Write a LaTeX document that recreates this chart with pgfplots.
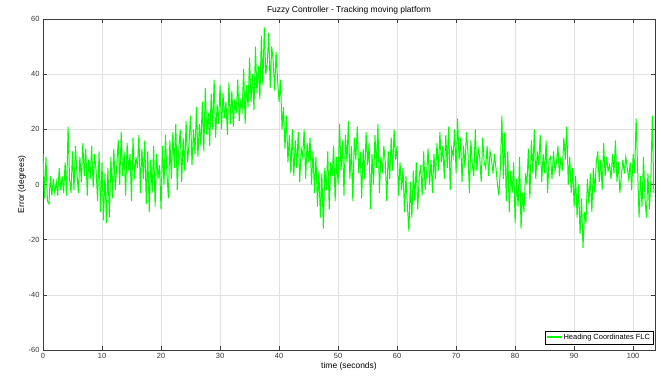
\documentclass[border=0pt]{standalone}
\usepackage{pgfplots}
\pgfplotsset{compat=1.18}
\usepackage{pgfplotstable}
\usepackage{fontspec}
\setmainfont{Liberation Sans}
\definecolor{lgreen}{RGB}{0,255,0}
\definecolor{gridgray}{RGB}{225,225,225}
\definecolor{axgray}{RGB}{60,60,60}
\pgfplotstableread{
err
11
-5
10
-6
-7
3
-4
2
-3
1
-4
6
-2
3
-3
8
-4
21
2
-3
12
-2
14
4
-3
10
1
15
3
13
-4
9
2
14
-1
11
5
-6
12
-10
8
-13
4
-14
6
-12
10
-5
13
-2
7
16
0
19
3
12
-4
15
5
11
-6
17
2
10
6
18
-3
13
2
16
-7
12
-10
9
-3
14
-8
11
2
7
-9
14
0
18
4
-5
16
2
19
6
22
-2
12
20
1
17
5
23
8
15
25
7
20
11
28
10
22
14
30
12
35
18
26
14
33
20
38
17
29
22
36
20
33
24
30
18
37
22
34
21
31
26
38
23
30
27
42
22
36
28
46
30
40
27
50
33
43
31
54
36
57
40
44
55
35
50
45
34
48
38
30
38
20
28
13
25
8
18
4
20
3
16
6
19
1
13
10
20
2
15
8
17
0
12
-3
10
-8
5
-12
4
-16
6
-2
12
-9
8
3
14
-6
10
0
22
5
16
-4
18
8
23
2
14
-6
17
9
21
4
12
-5
13
2
19
7
15
-9
11
0
18
6
22
-3
10
4
14
8
-6
12
2
17
5
20
9
14
-4
8
-2
6
-10
3
-8
-17
1
-12
5
-6
8
-9
3
7
-4
12
-2
4
13
0
9
-3
11
2
15
5
19
8
14
2
18
6
21
-2
13
10
20
4
24
9
17
1
14
6
19
12
-3
16
7
3
20
5
13
10
1
17
8
6
14
3
12
9
4
11
6
0
-4
6
25
2
19
-6
12
-10
5
-3
8
-14
2
-8
10
-16
-3
-10
4
0
13
-5
16
4
20
2
12
7
18
1
11
4
16
-3
9
10
2
12
5
8
14
3
10
5
17
9
21
0
10
-3
6
-8
3
-12
0
-18
-5
-23
-10
-14
2
-7
4
-10
6
-3
8
12
1
9
-2
15
3
10
5
7
2
11
4
16
1
8
-3
3
9
4
10
6
2
8
-2
11
4
24
6
-12
3
-8
10
-5
-12
4
-9
2
25
-3
}\errdata
\begin{document}
\begin{tikzpicture}
\begin{axis}[
  scale only axis,
  width=612bp, height=331bp,
  xmin=0, xmax=103.7,
  ymin=-60, ymax=60,
  xtick={0,10,...,100},
  ytick={-60,-40,...,60},
  grid=major,
  major grid style={gridgray, line width=0.5pt},
  axis line style={axgray, line width=0.6pt},
  tick style={axgray, line width=0.6pt},
  tick align=inside,
  major tick length=4bp,
  tick label style={font=\fontsize{7.5}{8}\selectfont, text=black!80},
  /pgf/number format/assume math mode=true,
  xlabel={time (seconds)},
  ylabel={Error (degrees)},
  xlabel style={font=\fontsize{8.5}{9}\selectfont, yshift=3bp},
  ylabel style={font=\fontsize{8.5}{9}\selectfont, yshift=-4bp},
  title={Fuzzy Controller - Tracking moving platform},
  title style={font=\fontsize{8.5}{9}\selectfont, yshift=-5bp},
  legend style={at={(0.997,0.018)}, anchor=south east, font=\fontsize{7.5}{8}\selectfont,
    inner sep=1pt, row sep=-1pt},
  legend cell align=left,
]
\addplot[draw=lgreen, line width=1pt,
  legend image code/.code={\node[inner sep=0pt, anchor=west] at (0bp,0bp) {\textcolor{lgreen}{\rule[-0.6pt]{15bp}{1.2pt}}};}]
  table[x expr=\coordindex*0.25, y index=0] {\errdata};
\addlegendentry{Heading Coordinates FLC}
\end{axis}
\pgfresetboundingbox
\path[use as bounding box] ([shift={(-43bp,-31bp)}]current axis.south west) rectangle ([shift={(6bp,19bp)}]current axis.north east);
\end{tikzpicture}
\end{document}
